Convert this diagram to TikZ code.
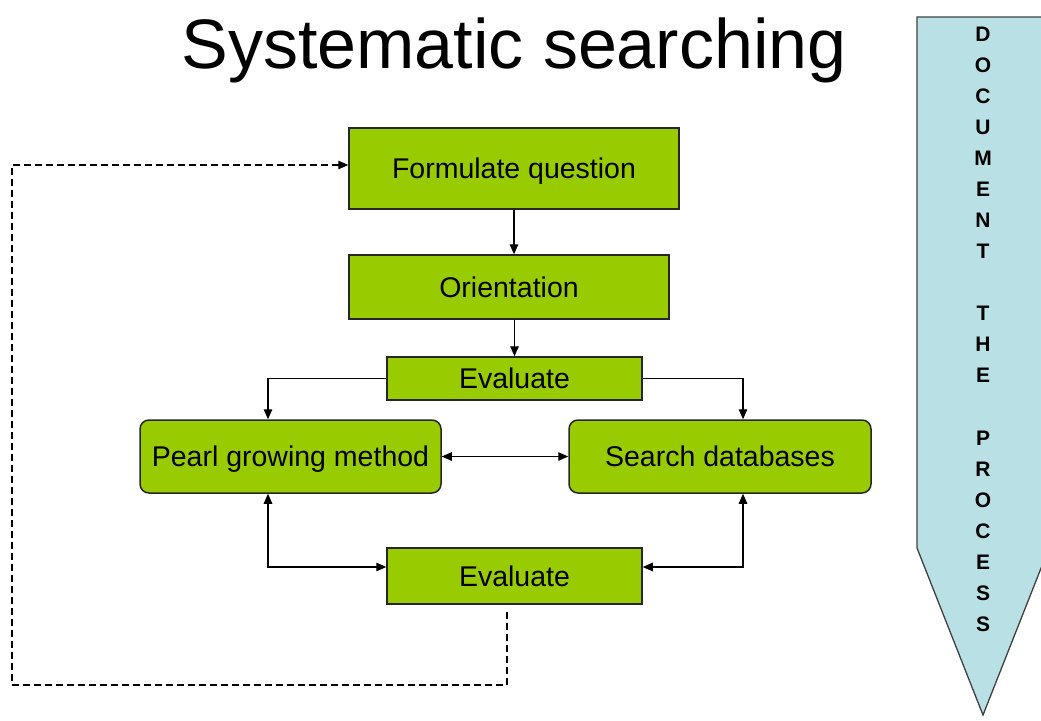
\documentclass[tikz,border=0pt]{standalone}
\usepackage{fontspec}
\setmainfont{Liberation Sans}
\usetikzlibrary{arrows.meta, positioning}
\definecolor{leaf}{RGB}{153,204,0}
\definecolor{paleteal}{RGB}{185,224,228}

\begin{document}
\begin{tikzpicture}[x=1pt, y=-1pt,
    box/.style={draw=black!85, line width=1.5pt, fill=leaf, inner sep=0pt,
      text height=20.5pt, text depth=0pt,
      font=\fontsize{28.5}{34}\selectfont},
    rbox/.style={box, rounded corners=9pt},
    link/.style={line width=1.4pt, -{Triangle[length=10pt,width=8.5pt]}},
    twoway/.style={line width=1.4pt, {Triangle[length=10pt,width=8.5pt]}-{Triangle[length=10pt,width=8.5pt]}},
    back/.style={link, dash pattern=on 7pt off 4pt}]
  \useasboundingbox (0,0) rectangle (1041,720);

  % title
  \node[font=\fontsize{70}{80}\selectfont, anchor=base, inner sep=0pt] (title) at (514,68) {Systematic searching};

  % document the process banner
  \draw[draw=black!75, line width=1.3pt, fill=paleteal]
    (917,17) -- (1049,17) -- (1049,548) -- (983,715) -- (917,548) -- cycle;
  \node[font=\bfseries\fontsize{21}{31.05}\selectfont, align=center, anchor=north, inner sep=0pt] (doc) at (983,26.7)
    {D\\O\\C\\U\\M\\E\\N\\T\\[31.05pt]T\\H\\E\\[31.05pt]P\\R\\O\\C\\E\\S\\S};

  % boxes
  \node[box, minimum width=330pt, minimum height=81pt] (formulate) at (514,168.5) {Formulate question};
  \node[box, minimum width=320pt, minimum height=64pt] (orient) at (509,287) {Orientation};
  \node[box, minimum width=255pt, minimum height=43pt] (evaltop) at (514.5,378.5) {Evaluate};
  \node[rbox, minimum width=301pt, minimum height=73pt] (pearl) at (290.5,456.5) {Pearl growing method};
  \node[rbox, minimum width=302pt, minimum height=73pt] (search) at (720,456.5) {Search databases};
  \node[box, minimum width=255pt, minimum height=56pt] (evalbot) at (514.5,576) {Evaluate};

  % connectors
  \draw[link] (formulate.south) -- (formulate.south |- orient.north);
  \draw[link] (evaltop.north |- orient.south) -- (evaltop.north);
  \draw[link] (evaltop.west) -| ([xshift=-22.5pt]pearl.north);
  \draw[link] (evaltop.east) -| ([xshift=23pt]search.north);
  \draw[twoway] (pearl.east) -- (search.west);
  \draw[twoway] ([xshift=-22.5pt]pearl.south) |- ([yshift=9pt]evalbot.west);
  \draw[twoway] ([xshift=23pt]search.south) |- ([yshift=9pt]evalbot.east);

  % loop back
  \coordinate (loopstart) at (507,612);
  \coordinate (loopcorner) at (12,685);
  \draw[back] (loopstart) |- (loopcorner) |- ([yshift=3.5pt]formulate.west);
\end{tikzpicture}
\end{document}
